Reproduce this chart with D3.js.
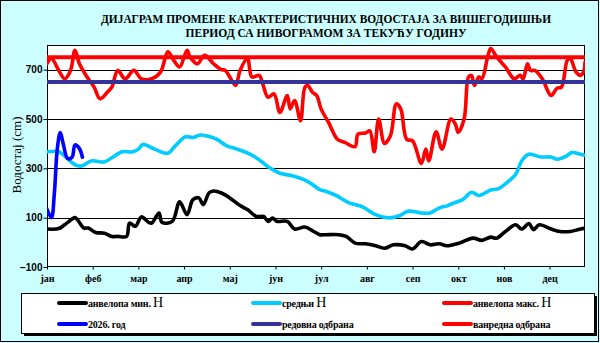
<!DOCTYPE html>
<html>
<head>
<meta charset="utf-8">
<script src="https://cdn.jsdelivr.net/npm/d3@7"></script>
<style>
  html, body { margin: 0; padding: 0; background: #ccffff; }
  svg { display: block; }
</style>
</head>
<body>
<svg id="chart" width="600" height="343"></svg>
<script>
// month labels, one tick every 31 days like the original sheet
const months = ["јан", "феб", "мар", "апр", "мај", "јун", "јул", "авг", "сеп", "окт", "нов", "дец"];
const yTicks = [-100, 100, 300, 500, 700];

// анвелопа мин. Н
const minDays = [0, 8, 12, 19, 21, 25, 28, 33, 39, 44, 48, 54, 56, 60, 64, 69, 71, 76, 78, 85, 90, 95, 99, 103, 106, 110, 113, 118, 124, 131, 136, 142, 147, 150, 153, 156, 163, 168, 175, 181, 185, 189, 198, 203, 209, 216, 223, 229, 235, 243, 248, 254, 260, 266, 271, 274, 280, 289, 295, 301, 305, 311, 318, 322, 327, 330, 334, 342, 348, 355, 360, 365];
const minVals = [54, 56, 71, 100, 89, 58, 58, 40, 37, 24, 24, 24, 78, 65, 103, 81, 78, 119, 81, 85, 164, 112, 173, 180, 153, 201, 208, 201, 180, 149, 133, 105, 105, 85, 98, 85, 85, 54, 62, 44, 31, 31, 31, 24, -3, -6, -14, -24, -10, -14, -27, 3, -10, -6, -14, -12, -3, 17, 8, 21, 17, 44, 71, 54, 76, 51, 71, 54, 44, 44, 51, 58];

// средњи Н
const meanDays = [0, 8, 12, 17, 21, 24, 30, 39, 44, 51, 58, 62, 65, 73, 82, 87, 94, 99, 104, 108, 115, 122, 129, 138, 145, 151, 158, 167, 174, 180, 185, 189, 196, 205, 214, 223, 232, 239, 245, 254, 260, 266, 272, 274, 282, 288, 293, 301, 306, 312, 318, 322, 327, 335, 342, 346, 352, 356, 362, 365];
const meanVals = [367, 367, 350, 323, 310, 310, 330, 326, 343, 367, 367, 378, 397, 378, 361, 391, 428, 425, 435, 432, 418, 391, 378, 357, 330, 302, 280, 269, 255, 235, 214, 207, 190, 160, 144, 112, 99, 108, 126, 119, 119, 139, 149, 155, 173, 203, 190, 212, 217, 242, 276, 330, 357, 346, 346, 337, 348, 364, 357, 353];

// анвелопа макс. Н
const maxDays = [0, 3, 8, 12, 16, 19, 22, 28, 32, 36, 41, 44, 48, 53, 59, 64, 71, 77, 82, 86, 90, 95, 97, 102, 107, 113, 118, 121, 124, 128, 131, 136, 139, 144, 146, 150, 154, 158, 163, 165, 168, 172, 175, 177, 180, 183, 186, 191, 197, 202, 209, 211, 216, 219, 222, 225, 229, 233, 237, 240, 244, 248, 254, 257, 259, 264, 268, 274, 277, 279, 283, 286, 288, 290, 293, 295, 299, 301, 305, 311, 317, 321, 323, 326, 328, 331, 336, 342, 346, 349, 353, 355, 359, 362, 364, 365];
const maxVals = [724, 745, 697, 663, 697, 779, 724, 663, 629, 582, 609, 629, 697, 663, 697, 663, 663, 690, 772, 738, 711, 779, 752, 724, 758, 724, 701, 697, 670, 636, 697, 745, 670, 677, 650, 588, 602, 527, 595, 541, 575, 493, 629, 636, 609, 595, 540, 486, 418, 405, 388, 439, 443, 452, 367, 500, 401, 432, 561, 541, 418, 411, 320, 378, 330, 448, 378, 500, 480, 446, 500, 670, 677, 636, 670, 663, 752, 786, 752, 711, 663, 677, 663, 724, 697, 697, 663, 595, 625, 629, 738, 745, 690, 677, 690, 731];

// 2026. год
const curDays = [0, 3, 5, 7, 9, 11, 14, 17, 19, 22, 24];
const curVals = [135, 100, 200, 380, 445, 400, 340, 345, 395, 380, 345];

// одбрана од поплава
const regularDefense = 650;
const extraDefense = 750;

const W = 600, H = 343;
const plot = { left: 47, right: 585, top: 45, bottom: 267 };

const svg = d3.select("#chart");

svg.append("rect")
  .attr("x", 0.5).attr("y", 0.5)
  .attr("width", W - 2).attr("height", H - 2)
  .attr("fill", "#ccffff")
  .attr("stroke", "#000");

const x = d3.scaleLinear().domain([0, 365]).range([plot.left, plot.right]);
const y = d3.scaleLinear().domain([-100, 800]).range([plot.bottom, plot.top]);

// title
const title = svg.append("g")
  .attr("font-family", "'Liberation Serif', 'Times New Roman', serif")
  .attr("font-weight", "bold")
  .attr("font-size", 11.5)
  .attr("text-anchor", "middle");
title.append("text").attr("x", 326).attr("y", 23)
  .attr("textLength", 450).attr("lengthAdjust", "spacingAndGlyphs")
  .text("ДИЈАГРАМ ПРОМЕНЕ КАРАКТЕРИСТИЧНИХ ВОДОСТАЈА ЗА ВИШЕГОДИШЊИ");
title.append("text").attr("x", 326).attr("y", 37)
  .attr("textLength", 281).attr("lengthAdjust", "spacingAndGlyphs")
  .text("ПЕРИОД СА НИВОГРАМОМ ЗА ТЕКУЋУ ГОДИНУ");

// plot area
svg.append("rect")
  .attr("x", plot.left).attr("y", plot.top)
  .attr("width", plot.right - plot.left).attr("height", plot.bottom - plot.top)
  .attr("fill", "#fff");

// gridlines
svg.append("g")
  .selectAll("line")
  .data(yTicks.filter(d => d > -100))
  .join("line")
  .attr("x1", plot.left).attr("x2", plot.right)
  .attr("y1", d => Math.round(y(d)) + 0.5).attr("y2", d => Math.round(y(d)) + 0.5)
  .attr("stroke", "#000").attr("stroke-width", 1);

svg.append("rect")
  .attr("x", plot.left + 0.5).attr("y", plot.top + 0.5)
  .attr("width", plot.right - plot.left - 1).attr("height", plot.bottom - plot.top - 1)
  .attr("fill", "none").attr("stroke", "#000");

// y axis
const yAxis = svg.append("g")
  .attr("transform", `translate(${plot.left + 0.5},0)`)
  .call(d3.axisLeft(y).tickValues(yTicks).tickSize(4).tickSizeOuter(0));
yAxis.select(".domain").remove();
yAxis.selectAll("line").attr("stroke", "#000");
yAxis.selectAll("text")
  .attr("font-family", "'Liberation Sans', Arial, sans-serif")
  .attr("font-weight", "bold")
  .attr("font-size", 10)
  .attr("fill", "#000")
  .attr("x", -5);

svg.append("text")
  .attr("transform", "translate(21,155) rotate(-90)")
  .attr("text-anchor", "middle")
  .attr("font-family", "'Liberation Serif', 'Times New Roman', serif")
  .attr("font-size", 13)
  .text("Водостај (cm)");

// x axis
const xAxis = svg.append("g")
  .attr("transform", `translate(0,${plot.bottom - 0.5})`)
  .call(d3.axisBottom(x)
    .tickValues(months.map((m, i) => i * 31))
    .tickFormat((d, i) => months[i])
    .tickSize(3).tickSizeOuter(0));
xAxis.select(".domain").remove();
xAxis.selectAll("line").attr("stroke", "#000");
xAxis.selectAll("text")
  .attr("font-family", "'Liberation Serif', 'Times New Roman', serif")
  .attr("font-weight", "bold")
  .attr("font-size", 10)
  .attr("fill", "#000")
  .attr("y", 8);

// series
const line = d3.line()
  .x(d => x(d[0]))
  .y(d => y(d[1]))
  .curve(d3.curveCatmullRom.alpha(0.5));

const series = [
  { days: minDays, vals: minVals, color: "#000000" },
  { days: meanDays, vals: meanVals, color: "#00ccff" },
  { days: maxDays, vals: maxVals, color: "#ff0000" },
  { days: curDays, vals: curVals, color: "#0000ff" }
];

svg.append("clipPath").attr("id", "plotclip")
  .append("rect")
  .attr("x", plot.left).attr("y", plot.top)
  .attr("width", plot.right - plot.left).attr("height", plot.bottom - plot.top);

const lines = svg.append("g").attr("clip-path", "url(#plotclip)");
series.forEach(s => {
  lines.append("path")
    .datum(s.days.map((d, i) => [d, s.vals[i]]))
    .attr("d", line)
    .attr("fill", "none")
    .attr("stroke", s.color)
    .attr("stroke-width", 3.6)
    .attr("stroke-linejoin", "round")
    .attr("stroke-linecap", "round");
});

lines.append("line")
  .attr("x1", x(0)).attr("x2", x(365))
  .attr("y1", y(regularDefense)).attr("y2", y(regularDefense))
  .attr("stroke", "#333399").attr("stroke-width", 4);
lines.append("line")
  .attr("x1", x(0)).attr("x2", x(365))
  .attr("y1", y(extraDefense)).attr("y2", y(extraDefense))
  .attr("stroke", "#ff0000").attr("stroke-width", 4);

// legend
const lg = { x: 21, y: 293, w: 573, h: 40 };
svg.append("rect")
  .attr("x", lg.x + 3).attr("y", lg.y + 3)
  .attr("width", lg.w).attr("height", lg.h)
  .attr("fill", "#000");
svg.append("rect")
  .attr("x", lg.x + 0.5).attr("y", lg.y + 0.5)
  .attr("width", lg.w).attr("height", lg.h)
  .attr("fill", "#fff").attr("stroke", "#000");

const legendItems = [
  { label: "анвелопа мин. ", big: "Н", color: "#000000", col: 0, row: 0 },
  { label: "средњи ", big: "Н", color: "#00ccff", col: 1, row: 0 },
  { label: "анвелопа макс. ", big: "Н", color: "#ff0000", col: 2, row: 0 },
  { label: "2026. год", big: "", color: "#0000ff", col: 0, row: 1 },
  { label: "редовна одбрана", big: "", color: "#333399", col: 1, row: 1 },
  { label: "ванредна одбрана", big: "", color: "#ff0000", col: 2, row: 1 }
];
const colX = [59, 253, 444];
const rowY = [303, 324];

const li = svg.append("g").selectAll("g")
  .data(legendItems)
  .join("g")
  .attr("transform", d => `translate(${colX[d.col]},${rowY[d.row]})`);
li.append("line")
  .attr("x1", 0).attr("x2", 27)
  .attr("stroke", d => d.color)
  .attr("stroke-width", 4)
  .attr("stroke-linecap", "round");
const lt = li.append("text")
  .attr("x", 29).attr("y", 4)
  .attr("font-family", "'Liberation Serif', 'Times New Roman', serif")
  .attr("font-weight", "bold")
  .attr("font-size", 10)
  .attr("letter-spacing", -0.2);
lt.append("tspan").text(d => d.label);
lt.append("tspan").attr("font-size", 14).attr("font-weight", "normal").attr("letter-spacing", 0).text(d => d.big);
</script>
</body>
</html>
